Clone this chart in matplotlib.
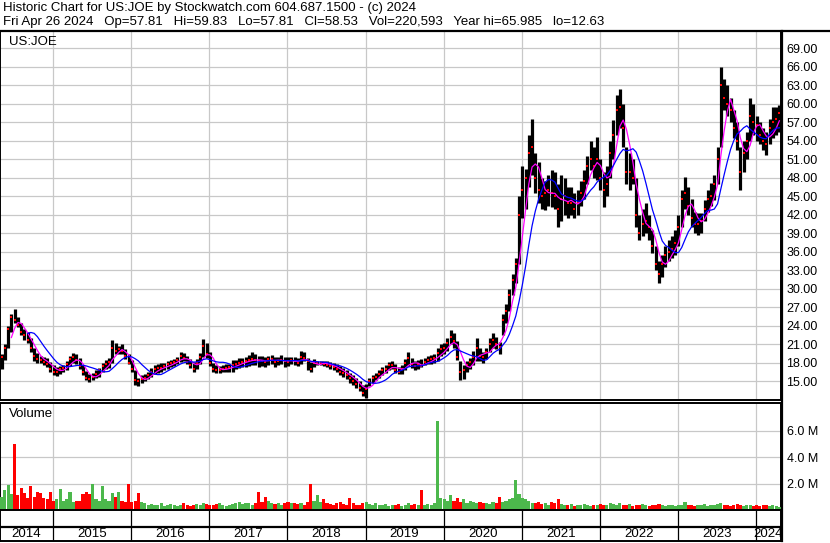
"""
Stockwatch-style historic chart for US:JOE (Apr 2014 - Apr 2024).
Half-month price ranges + closes, 20/60-day style moving averages, volume panel.
"""

import matplotlib
matplotlib.use("Agg")
import matplotlib.pyplot as plt
from matplotlib.lines import Line2D
import numpy as np
import pandas as pd

plt.rcParams["font.family"] = ["Liberation Sans", "DejaVu Sans"]

# ---------------------------------------------------------------------------
# Data (one value per half-month, starting late April 2014)
# ---------------------------------------------------------------------------
START = 2014.32          # first period start, fractional year
PER_YEAR = 24            # half-month periods

lo = [
    # 2014
    17.0, 18.5, 20.5, 23.0, 24.5, 23.8, 22.5, 21.8, 21.2, 19.8, 18.4, 18.0, 18.0, 17.6, 17.3, 16.6,
    # 2015
    16.0, 15.9, 16.2, 16.5, 16.8, 17.5, 18.0, 17.8, 17.0, 16.0, 15.2, 14.9, 15.2, 15.5, 15.8, 16.5,
    17.0, 17.2, 18.0, 19.5, 19.4, 19.5, 18.6, 17.8,
    # 2016
    16.6, 14.4, 14.3, 14.8, 15.0, 15.4, 15.8, 16.2, 16.4, 16.6, 16.8, 17.0, 17.3, 17.5, 17.8, 18.2,
    18.3, 17.8, 17.2, 16.5, 17.0, 17.8, 19.0, 18.8,
    # 2017
    17.5, 16.6, 16.4, 16.4, 16.5, 16.6, 16.5, 16.6, 17.0, 17.2, 17.3, 17.4, 17.5, 17.6, 17.6, 17.4,
    17.5, 17.4, 17.6, 17.8, 17.4, 17.6, 17.8, 17.4,
    # 2018
    17.5, 17.8, 17.6, 17.5, 17.8, 18.3, 16.8, 16.5, 17.4, 17.6, 17.6, 17.5, 17.3, 17.0, 16.8, 16.6,
    16.0, 15.8, 15.4, 14.8, 14.4, 14.0, 13.4, 12.6,
    # 2019
    12.4, 14.2, 14.8, 15.2, 15.6, 16.0, 16.4, 16.8, 17.0, 16.4, 16.2, 16.2, 16.8, 17.5, 17.2, 16.9,
    17.0, 17.3, 17.6, 17.8, 17.8, 18.0, 18.4, 19.2,
    # 2020
    19.5, 20.0, 21.0, 20.5, 18.5, 15.3, 15.4, 16.6, 17.0, 17.6, 18.4, 18.4, 18.0, 18.6, 19.8, 20.5,
    20.2, 19.5, 22.5, 24.5, 26.5, 29.0, 31.0, 34.0,
    # 2021
    41.5, 43.0, 46.5, 48.5, 45.5, 44.0, 43.0, 42.8, 43.5, 43.3, 43.0, 40.0, 41.0, 42.0, 41.5, 42.0,
    41.5, 42.0, 43.5, 44.5, 47.0, 49.3, 48.0, 47.6,
    # 2022
    46.0, 43.3, 45.0, 48.0, 51.0, 55.0, 56.0, 53.0, 47.0, 46.0, 47.0, 40.0, 37.9, 38.5, 39.0, 38.0,
    35.8, 33.0, 31.0, 32.0, 33.5, 34.5, 35.0, 35.5,
    # 2023
    37.0, 40.0, 43.0, 42.0, 40.0, 39.0, 38.7, 39.0, 41.0, 42.5, 43.5, 44.4, 47.0, 53.0, 59.0, 58.0,
    57.0, 54.5, 52.5, 46.0, 49.0, 51.0, 54.0, 55.0,
    # 2024
    54.0, 53.5, 52.5, 51.7, 53.5, 54.5, 55.0, 55.5,
]

hi = [
    # 2014
    19.5, 21.0, 24.0, 26.0, 26.7, 25.5, 24.5, 23.5, 23.0, 22.0, 20.5, 19.6, 19.2, 19.0, 18.8, 18.2,
    # 2015
    17.6, 17.3, 17.5, 17.6, 18.3, 19.2, 19.6, 19.5, 18.8, 17.6, 16.7, 16.2, 16.4, 16.8, 17.2, 18.0,
    18.5, 18.8, 21.8, 21.2, 20.8, 21.0, 20.2, 19.5,
    # 2016
    18.5, 16.8, 15.6, 16.0, 16.2, 16.6, 17.2, 17.6, 17.8, 18.0, 18.0, 18.3, 18.5, 18.7, 19.0, 19.8,
    19.6, 19.2, 18.6, 18.2, 18.6, 19.6, 21.9, 21.2,
    # 2017
    19.8, 18.0, 17.6, 17.5, 17.6, 17.8, 17.8, 18.5, 18.5, 18.8, 18.8, 18.9, 19.3, 19.8, 19.4, 19.2,
    19.2, 19.0, 19.2, 19.3, 19.0, 19.0, 19.3, 19.0,
    # 2018
    18.9, 19.0, 18.9, 18.8, 20.0, 19.8, 18.8, 18.2, 18.6, 18.4, 18.4, 18.4, 18.4, 18.2, 18.0, 17.8,
    17.5, 17.2, 16.8, 16.4, 16.0, 15.5, 15.0, 14.5,
    # 2019
    14.6, 15.6, 16.0, 16.4, 16.8, 17.4, 17.6, 18.2, 18.4, 17.8, 17.4, 17.6, 18.6, 19.7, 18.8, 18.4,
    18.5, 18.6, 18.8, 19.2, 19.3, 19.5, 20.4, 21.0,
    # 2020
    21.2, 22.0, 23.3, 22.8, 21.5, 18.4, 17.6, 18.4, 18.8, 20.0, 22.0, 20.4, 19.8, 20.4, 22.0, 22.8,
    22.2, 21.4, 26.0, 27.5, 30.0, 32.5, 35.0, 45.0,
    # 2021
    50.0, 49.5, 55.0, 57.5, 52.0, 50.5, 48.0, 47.5, 48.5, 49.3, 49.0, 47.0, 48.5, 48.0, 46.5, 46.5,
    45.5, 46.0, 47.5, 49.3, 51.5, 54.0, 53.0, 54.7,
    # 2022
    51.0, 49.0, 50.0, 54.0, 57.4, 61.5, 62.4, 60.0, 53.0, 52.0, 51.0, 48.0, 42.0, 43.0, 43.9, 42.0,
    39.5, 37.0, 34.5, 35.5, 37.0, 38.0, 38.5, 39.5,
    # 2023
    42.0, 46.0, 48.2, 46.5, 44.5, 42.5, 42.3, 42.3, 44.4, 46.0, 47.2, 48.5, 53.0, 66.0, 64.0, 63.0,
    61.0, 59.0, 57.0, 53.0, 54.0, 55.5, 61.0, 60.0,
    # 2024
    58.0, 57.0, 56.0, 55.5, 57.5, 59.5, 59.5, 59.8,
]

close = [
    # 2014
    19.0, 20.5, 23.5, 25.5, 25.0, 24.2, 23.0, 22.5, 21.8, 20.5, 19.2, 18.6, 18.5, 18.2, 17.8, 17.0,
    # 2015
    16.5, 16.6, 17.0, 17.2, 17.8, 18.6, 19.0, 18.5, 17.5, 16.5, 15.6, 15.4, 15.8, 16.2, 16.8, 17.5,
    17.8, 18.2, 20.5, 20.0, 20.2, 20.0, 19.2, 18.0,
    # 2016
    17.0, 15.2, 15.0, 15.4, 15.6, 16.0, 16.6, 17.0, 17.2, 17.2, 17.5, 17.8, 18.0, 18.2, 18.5, 19.2,
    18.8, 18.2, 17.6, 17.0, 18.0, 19.0, 20.8, 19.5,
    # 2017
    18.0, 17.0, 16.8, 16.9, 17.0, 17.2, 17.3, 17.6, 17.8, 18.0, 18.2, 18.3, 18.5, 18.6, 18.5, 18.4,
    18.3, 18.2, 18.6, 18.6, 18.2, 18.4, 18.5, 18.3,
    # 2018
    18.2, 18.5, 18.3, 18.0, 19.0, 18.8, 18.3, 17.0, 18.0, 18.0, 18.0, 17.9, 17.7, 17.5, 17.3, 17.0,
    16.5, 16.3, 16.0, 15.5, 15.0, 14.6, 14.0, 13.2,
    # 2019
    13.8, 15.0, 15.5, 15.8, 16.2, 16.8, 17.0, 17.6, 17.6, 16.8, 16.6, 17.0, 18.0, 18.8, 17.8, 17.5,
    17.8, 17.5, 18.2, 18.5, 18.6, 18.8, 19.6, 20.2,
    # 2020
    20.4, 21.2, 22.2, 21.5, 19.0, 16.5, 16.8, 17.6, 18.2, 19.0, 20.5, 19.2, 19.0, 19.8, 21.0, 21.8,
    21.0, 20.6, 25.0, 26.5, 29.0, 31.5, 34.0, 42.0,
    # 2021
    46.0, 48.0, 52.0, 53.0, 48.0, 46.0, 45.0, 45.5, 46.0, 45.5, 45.0, 43.0, 44.5, 45.0, 44.0, 44.0,
    43.0, 44.0, 45.5, 47.5, 50.0, 51.0, 50.0, 51.0,
    # 2022
    48.0, 46.0, 47.0, 52.0, 55.0, 59.0, 59.5, 56.0, 49.0, 49.0, 48.0, 42.0, 39.0, 40.5, 41.0, 40.0,
    37.0, 34.0, 32.5, 34.0, 35.5, 36.0, 36.5, 37.5,
    # 2023
    40.0, 44.5, 45.5, 43.5, 41.5, 40.5, 40.5, 41.0, 43.0, 44.5, 45.0, 47.0, 51.0, 63.0, 61.0, 60.0,
    59.0, 56.0, 54.0, 49.0, 52.0, 54.0, 58.0, 57.0,
    # 2024
    56.5, 55.0, 54.0, 53.5, 56.0, 57.0, 57.5, 58.5,
]

# typical daily volume within each half-month, millions
vol = [
    # 2014
    1.0, 1.5, 1.9, 1.2, 5.0, 1.1, 1.7, 1.3, 0.9, 1.8, 1.0, 1.4, 1.3, 0.9, 0.8, 1.4,
    # 2015
    0.7, 0.8, 1.6, 0.7, 0.8, 1.4, 0.6, 0.7, 0.7, 1.2, 1.4, 1.2, 2.0, 0.8, 0.7, 1.8,
    0.8, 0.7, 1.3, 1.0, 1.4, 0.7, 0.6, 2.0,
    # 2016
    0.6, 0.65, 1.3, 0.6, 0.5, 0.4, 0.45, 0.35, 0.4, 0.5, 0.3, 0.4, 0.45, 0.35, 0.3, 0.4,
    0.5, 0.35, 0.3, 0.4, 0.45, 0.4, 0.5, 0.45,
    # 2017
    0.4, 0.35, 0.45, 0.5, 0.4, 0.3, 0.35, 0.45, 0.5, 0.6, 0.45, 0.5, 0.55, 0.4, 0.5, 1.4,
    0.6, 1.0, 0.7, 0.5, 0.45, 0.55, 0.4, 0.5,
    # 2018
    0.6, 0.55, 0.5, 0.45, 0.5, 0.4, 0.6, 2.0, 0.7, 1.1, 0.6, 0.8, 0.5, 0.45, 0.4, 0.5,
    0.6, 0.45, 0.4, 0.9, 0.5, 0.4, 0.35, 0.5,
    # 2019
    0.6, 0.45, 0.4, 0.5, 0.35, 0.4, 0.45, 0.3, 0.4, 0.35, 0.45, 0.3, 0.4, 0.5, 0.35, 0.45,
    0.4, 1.5, 0.4, 0.45, 0.35, 0.5, 6.7, 0.9,
    # 2020
    0.8, 0.7, 1.1, 0.7, 0.9, 0.6, 0.8, 0.5, 0.7, 0.6, 0.5, 0.6, 0.55, 0.5, 0.45, 0.6,
    0.5, 1.0, 0.6, 0.7, 0.8, 0.9, 2.3, 1.2,
    # 2021
    0.9, 0.8, 0.7, 0.55, 0.5, 0.6, 0.45, 0.5, 0.4, 0.6, 0.5, 0.8, 0.45, 0.4, 0.35, 0.45,
    0.3, 0.4, 0.35, 0.45, 0.4, 0.3, 0.35, 0.4,
    # 2022
    0.45, 0.35, 0.4, 0.5, 0.45, 0.4, 0.5, 0.35, 0.4, 0.45, 0.3, 0.4, 0.35, 0.45, 0.4, 0.3,
    0.35, 0.4, 0.45, 0.35, 0.3, 0.4, 0.35, 0.3,
    # 2023
    0.4, 0.35, 0.6, 0.4, 0.35, 0.3, 0.4, 0.35, 0.45, 0.3, 0.35, 0.4, 0.45, 0.5, 0.4, 0.35,
    0.3, 0.4, 0.45, 0.35, 0.3, 0.35, 0.4, 0.3,
    # 2024
    0.35, 0.3, 0.4, 0.35, 0.3, 0.35, 0.3, 0.25,
]

years = list(range(2014, 2025))
price_ticks = list(range(15, 70, 3))
vol_ticks = [2, 4, 6]

HEADER_1 = "Historic Chart for US:JOE by Stockwatch.com 604.687.1500 - (c) 2024"
HEADER_2 = ("Fri Apr 26 2024   Op=57.81   Hi=59.83   Lo=57.81   Cl=58.53   "
            "Vol=220,593   Year hi=65.985   lo=12.63")

# ---------------------------------------------------------------------------
# Derived series
# ---------------------------------------------------------------------------
n = len(close)
t = START + (np.arange(n) + 0.5) / PER_YEAR
x0, x1 = START, START + n / PER_YEAR
closes = pd.Series(close)
ma_fast = closes.rolling(4).mean()
ma_slow = closes.rolling(9).mean()
up = closes.diff().fillna(0) >= 0
vol_colors = np.where(up, "#4cb84c", "#ff0000")
bounds = years[1:]

# ---------------------------------------------------------------------------
# Figure layout in pixels
# ---------------------------------------------------------------------------
W, H = 830, 543
GRID = "#c8c8c8"
fig = plt.figure(figsize=(W / 100, H / 100), dpi=100)


def box(left, top, right, bottom):
    return [left / W, 1 - bottom / H, (right - left) / W, (bottom - top) / H]


ax_p = fig.add_axes(box(0, 31, 781, 400))
ax_v = fig.add_axes(box(0, 403, 781, 510))
ax_d = fig.add_axes(box(0, 510, 781, 541))

fig.text(3 / W, 1 - 7.5 / H, HEADER_1, fontsize=9.5, va="center", ha="left")
fig.text(3 / W, 1 - 21.5 / H, HEADER_2, fontsize=9.5, va="center", ha="left")
fig.add_artist(Line2D([0, 1], [1 - 31 / H] * 2, color="black", lw=1.6))
fig.add_artist(Line2D([782 / W] * 2, [1 - 31 / H, 1 - 541 / H], color="black", lw=1.6))

# --- price panel -----------------------------------------------------------
ax_p.vlines(t, lo, hi, color="black", lw=2.3, zorder=3)
ax_p.plot(t, close, ls="none", marker="s", ms=1.5, mew=0, color="red", zorder=4)
ax_p.plot(t, ma_fast, color="#ff00ff", lw=0.9, zorder=5)
ax_p.plot(t, ma_slow, color="#0000ff", lw=0.9, zorder=5)

ax_p.set_xlim(x0, x1)
ax_p.set_ylim(12.0, 71.8)
ax_p.set_xticks(bounds)
ax_p.set_yticks(price_ticks)
ax_p.set_yticklabels([f"{p:.2f}" for p in price_ticks])
ax_p.yaxis.tick_right()
ax_p.tick_params(axis="y", length=0, pad=4, labelsize=9)
ax_p.tick_params(axis="x", length=0, labelbottom=False)
ax_p.grid(color=GRID, lw=0.9, zorder=0)
ax_p.set_axisbelow(True)
ax_p.text(9 / 781, 1 - 11 / 369, "US:JOE", transform=ax_p.transAxes,
          fontsize=9.5, va="center", ha="left")

# --- volume panel ----------------------------------------------------------
ax_v.bar(t, vol, width=0.95 / PER_YEAR, color=vol_colors, lw=0, zorder=3)
ax_v.set_xlim(x0, x1)
ax_v.set_ylim(0, 8.1)
ax_v.set_xticks(bounds)
ax_v.set_yticks(vol_ticks)
ax_v.set_yticklabels([f"{v:.1f} M" for v in vol_ticks])
ax_v.yaxis.tick_right()
ax_v.tick_params(axis="y", length=0, pad=4, labelsize=9)
ax_v.tick_params(axis="x", length=0, labelbottom=False)
ax_v.grid(color=GRID, lw=0.9, zorder=0)
ax_v.set_axisbelow(True)
ax_v.text(9 / 781, 1 - 11 / 107, "Volume", transform=ax_v.transAxes,
          fontsize=9.5, va="center", ha="left")

# --- date band -------------------------------------------------------------
ax_d.set_xlim(x0, x1)
ax_d.set_ylim(0, 1)
ax_d.set_xticks([])
ax_d.set_yticks([])
ax_d.axhline(14 / 31, color="black", lw=1.6)
ax_d.vlines(bounds, 0, 1, color="black", lw=0.9)
edges = [x0] + bounds + [x1]
for yr, a, b in zip(years, edges[:-1], edges[1:]):
    ax_d.text((a + b) / 2, 7 / 31, str(yr), fontsize=9.5, ha="center", va="center")

for ax in (ax_p, ax_v, ax_d):
    for side in ("top", "bottom", "left", "right"):
        ax.spines[side].set_color("black")
        ax.spines[side].set_linewidth(1.4)

fig.savefig("out.png", dpi=100, facecolor="white")
